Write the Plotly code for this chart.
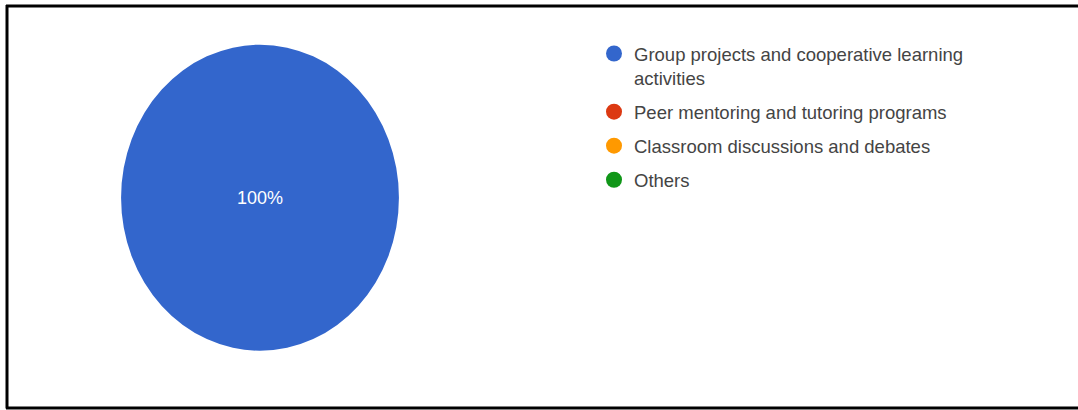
import plotly.graph_objects as go

# Survey responses: share of students choosing each activity
categories = [
    "Group projects and cooperative learning<br>activities",
    "Peer mentoring and tutoring programs",
    "Classroom discussions and debates",
    "Others",
]
values = [100, 0, 0, 0]
colors = ["#3366cc", "#dc3912", "#ff9900", "#109618"]

W, H = 1078, 410
FONT = "Liberation Sans, Arial, sans-serif"

fig = go.Figure()

labels_text = [f"{v:.0f}%" if v > 0 else "" for v in values]

fig.add_trace(go.Pie(
    labels=categories,
    values=values,
    marker=dict(colors=colors, line=dict(width=0)),
    text=labels_text,
    textinfo="text",
    textposition="inside",
    insidetextfont=dict(color="white", size=18, family=FONT),
    sort=False,
    direction="clockwise",
    showlegend=False,
    hoverinfo="label+percent",
    domain=dict(x=[(260 - 153) / W, (260 + 153) / W],
                y=[1 - (197.7 + 153) / H, 1 - (197.7 - 153) / H]),
))

# Legend entries with round swatches, one group each for extra spacing
for i, (name, c) in enumerate(zip(categories, colors)):
    fig.add_trace(go.Scatter(
        x=[None], y=[None], mode="markers", name=name, legendgroup=f"g{i}",
        marker=dict(symbol="circle", size=18, color=c),
    ))

# Frame around the chart
frame = dict(type="line", xref="paper", yref="paper", line=dict(color="black", width=3))
fig.add_shape(**frame, x0=6 / W, x1=1.0, y0=1 - 6 / H, y1=1 - 6 / H)
fig.add_shape(**frame, x0=7 / W, x1=7 / W, y0=1 - 5 / H, y1=1 - 408.5 / H)
fig.add_shape(**frame, x0=6 / W, x1=1.0, y0=1 - 408 / H, y1=1 - 408 / H)

fig.update_layout(
    width=W, height=H,
    margin=dict(l=0, r=0, t=0, b=0),
    paper_bgcolor="white", plot_bgcolor="white",
    xaxis=dict(visible=False), yaxis=dict(visible=False),
    font=dict(family=FONT),
    legend=dict(
        x=594 / W, y=1 - 35 / H, xanchor="left", yanchor="top",
        font=dict(size=18.5, color="#444444", family=FONT),
        bgcolor="rgba(0,0,0,0)",
        tracegroupgap=7,
        valign="top",
    ),
)

# The pie is drawn slightly narrower than tall
post = """
var s = document.createElement('style');
s.textContent = '.pielayer path.surface{transform-box:fill-box;transform-origin:center;transform:scaleX(0.908);}';
document.head.appendChild(s);
"""

fig.write_html("out.html", post_script=post)
